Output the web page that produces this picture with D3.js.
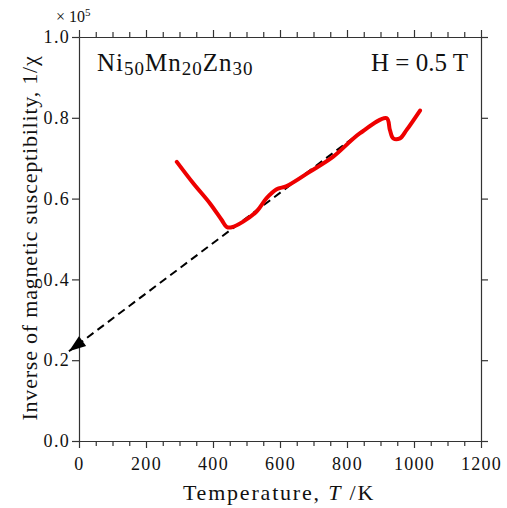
<!DOCTYPE html>
<html>
<head>
<meta charset="utf-8">
<script src="https://cdn.jsdelivr.net/npm/d3@7"></script>
<style>
  body { margin: 0; background: #fff; }
  text { font-family: "Liberation Serif", "Times New Roman", serif; fill: #111; }
</style>
</head>
<body>
<svg id="plot"></svg>
<script>
// Data
const temps = [292, 341, 391, 426, 441, 456, 490, 530, 560, 590, 620, 690, 759, 839, 918, 928, 938, 958, 978, 1018];
const invChi = [0.691, 0.638, 0.588, 0.547, 0.530, 0.529, 0.543, 0.568, 0.601, 0.623, 0.631, 0.667, 0.704, 0.762, 0.799, 0.770, 0.749, 0.749, 0.770, 0.818];
const fitTemps = [850, -30];
const fitValues = [0.770, 0.222];
const xTicks = [0, 200, 400, 600, 800, 1000, 1200];
const yTicks = [0.0, 0.2, 0.4, 0.6, 0.8, 1.0];

const width = 507;
const height = 508;
const margin = { top: 37, right: 26, bottom: 67, left: 79 };

const svg = d3.select("#plot").attr("width", width).attr("height", height);

const xScale = d3.scaleLinear().domain([0, 1200]).range([margin.left, width - margin.right]);
const yScale = d3.scaleLinear().domain([0, 1.0]).range([height - margin.bottom, margin.top]);

const axisColor = "#333";
const minorX = d3.range(50, 1200, 50).filter(d => d % 200 !== 0);

// Bottom axis
svg.append("g")
    .attr("transform", `translate(0,${yScale(0)})`)
    .call(d3.axisBottom(xScale).tickValues(xTicks).tickFormat(d3.format("d")).tickSizeInner(7).tickSizeOuter(0).tickPadding(9));
svg.append("g")
    .attr("transform", `translate(0,${yScale(0)})`)
    .call(d3.axisBottom(xScale).tickValues(minorX).tickFormat("").tickSizeInner(5).tickSizeOuter(0));

// Top axis
svg.append("g")
    .attr("transform", `translate(0,${yScale(1)})`)
    .call(d3.axisTop(xScale).tickValues(xTicks).tickFormat("").tickSizeInner(7).tickSizeOuter(0));
svg.append("g")
    .attr("transform", `translate(0,${yScale(1)})`)
    .call(d3.axisTop(xScale).tickValues(minorX).tickFormat("").tickSizeInner(5).tickSizeOuter(0));

// Left axis
svg.append("g")
    .attr("transform", `translate(${xScale(0)},0)`)
    .call(d3.axisLeft(yScale).tickValues(yTicks).tickFormat(d3.format(".1f")).tickSizeInner(7).tickSizeOuter(0).tickPadding(2));

// Right axis
svg.append("g")
    .attr("transform", `translate(${xScale(1200)},0)`)
    .call(d3.axisRight(yScale).tickValues(yTicks).tickFormat("").tickSizeInner(7).tickSizeOuter(0));

svg.selectAll(".domain, .tick line").attr("stroke", axisColor).attr("stroke-width", 1.2);
svg.selectAll(".tick text")
    .style("font-size", "18px")
    .style("letter-spacing", "1.3px")
    .attr("fill", "#111");

// Exponent label
const expo = svg.append("text").attr("x", 56).attr("y", 22).style("font-size", "16px");
expo.append("tspan").text("× 10");
expo.append("tspan").attr("dy", -6).style("font-size", "11px").text("5");

// Fit line
const fitData = fitTemps.map((t, i) => ({ t: t, v: fitValues[i] }));
const line = d3.line().x(d => xScale(d.t)).y(d => yScale(d.v));

svg.append("path")
    .datum(fitData)
    .attr("d", line)
    .attr("fill", "none")
    .attr("stroke", "#000")
    .attr("stroke-width", 2)
    .attr("stroke-dasharray", "8,5");

// Arrow head at the low-temperature end
const tipX = xScale(fitTemps[1]), tipY = yScale(fitValues[1]);
const backX = xScale(fitTemps[0]), backY = yScale(fitValues[0]);
const len = Math.hypot(backX - tipX, backY - tipY);
const ux = (backX - tipX) / len, uy = (backY - tipY) / len;
const headLen = 17, headHalf = 6;
const bx = tipX + ux * headLen, by = tipY + uy * headLen;
svg.append("path")
    .attr("d", `M${tipX},${tipY} L${bx - uy * headHalf},${by + ux * headHalf} L${bx + uy * headHalf},${by - ux * headHalf} Z`)
    .attr("fill", "#000");

// Measured curve
const curveData = temps.map((t, i) => ({ t: t, v: invChi[i] }));
svg.append("path")
    .datum(curveData)
    .attr("d", line.curve(d3.curveCatmullRom.alpha(0.5)))
    .attr("fill", "none")
    .attr("stroke", "#ee0000")
    .attr("stroke-width", 4)
    .attr("stroke-linejoin", "round")
    .attr("stroke-linecap", "round");

// Labels inside the plot
const comp = svg.append("text")
    .attr("x", 97).attr("y", 71)
    .style("font-size", "25px")
    .style("letter-spacing", "1px");
comp.append("tspan").text("Ni");
comp.append("tspan").attr("dy", 4).style("font-size", "19px").text("50");
comp.append("tspan").attr("dy", -4).text("Mn");
comp.append("tspan").attr("dy", 4).style("font-size", "19px").text("20");
comp.append("tspan").attr("dy", -4).text("Zn");
comp.append("tspan").attr("dy", 4).style("font-size", "19px").text("30");

svg.append("text")
    .attr("x", 468).attr("y", 71)
    .attr("text-anchor", "end")
    .style("font-size", "25px")
    .text("H = 0.5 T");

// Axis titles
const xt = svg.append("text")
    .attr("x", 279).attr("y", 500)
    .attr("text-anchor", "middle")
    .style("font-size", "22px")
    .style("letter-spacing", "1.8px");
xt.append("tspan").text("Temperature, ");
xt.append("tspan").style("font-style", "italic").text("T");
xt.append("tspan").text(" /K");

svg.append("text")
    .attr("transform", `translate(37,238) rotate(-90)`)
    .attr("text-anchor", "middle")
    .style("font-size", "22px")
    .style("letter-spacing", "0.8px")
    .text("Inverse of magnetic susceptibility, 1/χ");
</script>
</body>
</html>
